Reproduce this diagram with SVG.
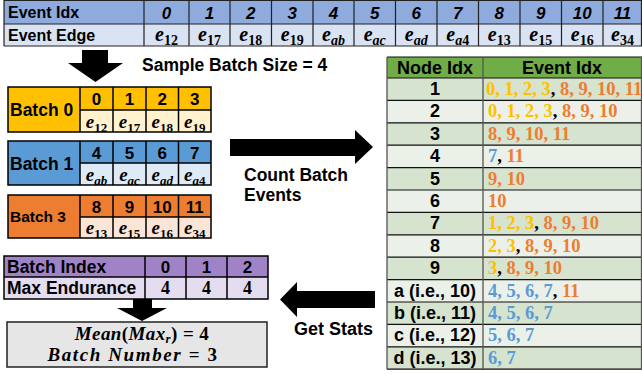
<svg xmlns="http://www.w3.org/2000/svg" width="642" height="374" viewBox="0 0 642 374">
<style>
.s{font-family:"Liberation Sans",Arial,sans-serif;font-weight:bold;fill:#000}
.m{font-family:"Liberation Serif","Times New Roman",serif;font-weight:bold;fill:#000}
.i{font-style:italic}
.c{text-anchor:middle}
.g{stroke:#222;stroke-width:1.2;fill:none}
.Y{fill:#FFC000}.O{fill:#ED7D31}.B{fill:#5B9BD5}.K{fill:#000}
.ev{font-size:18.5px}
.nd{font-size:18px}
</style>
<rect width="642" height="374" fill="#fff"/>

<g id="event-table">
<rect x="4" y="0" width="638" height="24" fill="#8FAADC"/>
<rect x="4" y="24" width="638" height="22" fill="#DAE3F3"/>
<path class="g" d="M4 0.5H642M4 24H642M4 46H642M4 0V46M144 0V46M189 0V46M230 0V46M271.5 0V46M313 0V46M354 0V46M395.5 0V46M437 0V46M478.5 0V46M520 0V46M561.5 0V46M603 0V46M641.5 0V46"/>
<text x="8" y="18" class="s" font-size="16">Event Idx</text>
<text x="8" y="41" class="s" font-size="16">Event Edge</text>
<g class="s i c" font-size="17">
<text x="166.5" y="19">0</text><text x="209.5" y="19">1</text><text x="250.75" y="19">2</text><text x="292.25" y="19">3</text><text x="333.5" y="19">4</text><text x="374.75" y="19">5</text><text x="416.25" y="19">6</text><text x="457.75" y="19">7</text><text x="499.25" y="19">8</text><text x="540.75" y="19">9</text><text x="582.25" y="19">10</text><text x="622.5" y="19">11</text>
</g>
<g class="m c" font-size="20">
<text x="166.5" y="41"><tspan class="i">e</tspan><tspan font-size="14" dy="4">12</tspan></text>
<text x="209.5" y="41"><tspan class="i">e</tspan><tspan font-size="14" dy="4">17</tspan></text>
<text x="250.75" y="41"><tspan class="i">e</tspan><tspan font-size="14" dy="4">18</tspan></text>
<text x="292.25" y="41"><tspan class="i">e</tspan><tspan font-size="14" dy="4">19</tspan></text>
<text x="333.5" y="41"><tspan class="i">e</tspan><tspan class="i" font-size="14" dy="4">ab</tspan></text>
<text x="374.75" y="41"><tspan class="i">e</tspan><tspan class="i" font-size="14" dy="4">ac</tspan></text>
<text x="416.25" y="41"><tspan class="i">e</tspan><tspan class="i" font-size="14" dy="4">ad</tspan></text>
<text x="457.75" y="41"><tspan class="i">e</tspan><tspan class="i" font-size="14" dy="4">a</tspan><tspan font-size="14">4</tspan></text>
<text x="499.25" y="41"><tspan class="i">e</tspan><tspan font-size="14" dy="4">13</tspan></text>
<text x="540.75" y="41"><tspan class="i">e</tspan><tspan font-size="14" dy="4">15</tspan></text>
<text x="582.25" y="41"><tspan class="i">e</tspan><tspan font-size="14" dy="4">16</tspan></text>
<text x="622.5" y="41"><tspan class="i">e</tspan><tspan font-size="14" dy="4">34</tspan></text>
</g>
</g>

<g id="sample-label">
<text x="142" y="71" class="s" font-size="17.5">Sample Batch Size = 4</text>
</g>

<g id="batch0">
<rect x="8" y="87" width="72" height="45" fill="#FFC000"/>
<rect x="80" y="87" width="131" height="23" fill="#FFC000"/>
<rect x="80" y="110" width="131" height="22" fill="#FFF2CC"/>
<path d="M8 87H211V132H8ZM80 87V132M113 87V132M146 87V132M178.5 87V132M80 110H211" fill="none" stroke="#000" stroke-width="1.5"/>
<text x="10" y="116" class="s" font-size="17.5">Batch 0</text>
<g class="s c" font-size="17"><text x="96.5" y="105">0</text><text x="129.5" y="105">1</text><text x="162.25" y="105">2</text><text x="194.75" y="105">3</text></g>
<g class="m c" font-size="19">
<text x="96.5" y="128"><tspan class="i">e</tspan><tspan font-size="13" dy="4">12</tspan></text>
<text x="129.5" y="128"><tspan class="i">e</tspan><tspan font-size="13" dy="4">17</tspan></text>
<text x="162.25" y="128"><tspan class="i">e</tspan><tspan font-size="13" dy="4">18</tspan></text>
<text x="194.75" y="128"><tspan class="i">e</tspan><tspan font-size="13" dy="4">19</tspan></text>
</g>
</g>

<g id="batch1">
<rect x="8" y="141" width="72" height="44" fill="#5B9BD5"/>
<rect x="80" y="141" width="131" height="22" fill="#5B9BD5"/>
<rect x="80" y="163" width="131" height="22" fill="#DEEBF7"/>
<path d="M8 141H211V185H8ZM80 141V185M113 141V185M146 141V185M178.5 141V185M80 163H211" fill="none" stroke="#000" stroke-width="1.5"/>
<text x="10" y="170" class="s" font-size="17.5">Batch 1</text>
<g class="s c" font-size="17"><text x="96.5" y="159">4</text><text x="129.5" y="159">5</text><text x="162.25" y="159">6</text><text x="194.75" y="159">7</text></g>
<g class="m c" font-size="19">
<text x="96.5" y="181"><tspan class="i">e</tspan><tspan class="i" font-size="13" dy="4">ab</tspan></text>
<text x="129.5" y="181"><tspan class="i">e</tspan><tspan class="i" font-size="13" dy="4">ac</tspan></text>
<text x="162.25" y="181"><tspan class="i">e</tspan><tspan class="i" font-size="13" dy="4">ad</tspan></text>
<text x="194.75" y="181"><tspan class="i">e</tspan><tspan class="i" font-size="13" dy="4">a</tspan><tspan font-size="13">4</tspan></text>
</g>
</g>

<g id="batch3">
<rect x="8" y="195" width="72" height="43" fill="#ED7D31"/>
<rect x="80" y="195" width="131" height="22" fill="#ED7D31"/>
<rect x="80" y="217" width="131" height="21" fill="#FBE5D6"/>
<path d="M8 195H211V238H8ZM80 195V238M113 195V238M146 195V238M178.5 195V238M80 217H211" fill="none" stroke="#000" stroke-width="1.5"/>
<text x="10" y="222" class="s" font-size="15.5">Batch 3</text>
<g class="s c" font-size="17"><text x="96.5" y="213">8</text><text x="129.5" y="213">9</text><text x="162.25" y="213">10</text><text x="194.75" y="213">11</text></g>
<g class="m c" font-size="19">
<text x="96.5" y="234"><tspan class="i">e</tspan><tspan font-size="13" dy="4">13</tspan></text>
<text x="129.5" y="234"><tspan class="i">e</tspan><tspan font-size="13" dy="4">15</tspan></text>
<text x="162.25" y="234"><tspan class="i">e</tspan><tspan font-size="13" dy="4">16</tspan></text>
<text x="194.75" y="234"><tspan class="i">e</tspan><tspan font-size="13" dy="4">34</tspan></text>
</g>
</g>

<g id="node-table">
<rect x="387" y="57" width="255" height="21" fill="#70AD47"/>
<rect x="387" y="78" width="255" height="22.4" fill="#D6E3CF"/>
<rect x="387" y="100.4" width="255" height="22.4" fill="#EBF1E8"/>
<rect x="387" y="122.8" width="255" height="22.4" fill="#D6E3CF"/>
<rect x="387" y="145.2" width="255" height="22.4" fill="#EBF1E8"/>
<rect x="387" y="167.6" width="255" height="22.4" fill="#D6E3CF"/>
<rect x="387" y="190" width="255" height="22.4" fill="#EBF1E8"/>
<rect x="387" y="212.4" width="255" height="22.4" fill="#D6E3CF"/>
<rect x="387" y="234.8" width="255" height="22.4" fill="#EBF1E8"/>
<rect x="387" y="257.2" width="255" height="22.4" fill="#D6E3CF"/>
<rect x="387" y="279.6" width="255" height="22.4" fill="#EBF1E8"/>
<rect x="387" y="302" width="255" height="22.4" fill="#D6E3CF"/>
<rect x="387" y="324.4" width="255" height="22.4" fill="#EBF1E8"/>
<rect x="387" y="346.8" width="255" height="22.4" fill="#D6E3CF"/>
<path d="M387 57H642M387 78H642M387 100.4H642M387 122.8H642M387 145.2H642M387 167.6H642M387 190H642M387 212.4H642M387 234.8H642M387 257.2H642M387 279.6H642M387 302H642M387 324.4H642M387 346.8H642M387 369.2H642" stroke="#111" stroke-width="1.2" fill="none"/>
<path d="M387 57V369.2M483 57V369.2M641.5 57V369.2" stroke="#555" stroke-width="1.3" fill="none"/>
<text x="435" y="74" class="s c nd">Node Idx</text>
<text x="562" y="74" class="s c nd">Event Idx</text>
<g class="s c nd">
<text x="435" y="95">1</text><text x="435" y="117.4">2</text><text x="435" y="139.8">3</text><text x="435" y="162.2">4</text><text x="435" y="184.6">5</text><text x="435" y="207">6</text><text x="435" y="229.4">7</text><text x="435" y="251.8">8</text><text x="435" y="274.2">9</text><text x="435" y="296.6">a (i.e., 10)</text><text x="435" y="319">b (i.e., 11)</text><text x="435" y="341.4">c (i.e., 12)</text><text x="435" y="363.8">d (i.e., 13)</text>
</g>
<g class="m ev">
<text x="486" y="95"><tspan class="Y">0, 1, 2, 3</tspan><tspan class="K">, </tspan><tspan class="O">8, 9, 10, 11</tspan></text>
<text x="488" y="117.4"><tspan class="Y">0, 1, 2, 3</tspan><tspan class="K">, </tspan><tspan class="O">8, 9, 10</tspan></text>
<text x="488" y="139.8"><tspan class="O">8, 9, 10, 11</tspan></text>
<text x="488" y="162.2"><tspan class="B">7</tspan><tspan class="K">, </tspan><tspan class="O">11</tspan></text>
<text x="488" y="184.6"><tspan class="O">9, 10</tspan></text>
<text x="488" y="207"><tspan class="O">10</tspan></text>
<text x="488" y="229.4"><tspan class="Y">1, 2, 3</tspan><tspan class="K">, </tspan><tspan class="O">8, 9, 10</tspan></text>
<text x="488" y="251.8"><tspan class="Y">2, 3</tspan><tspan class="K">, </tspan><tspan class="O">8, 9, 10</tspan></text>
<text x="488" y="274.2"><tspan class="Y">3</tspan><tspan class="K">, </tspan><tspan class="O">8, 9, 10</tspan></text>
<text x="488" y="296.6"><tspan class="B">4, 5, 6, 7</tspan><tspan class="K">, </tspan><tspan class="O">11</tspan></text>
<text x="488" y="319"><tspan class="B">4, 5, 6, 7</tspan></text>
<text x="488" y="341.4"><tspan class="B">5, 6, 7</tspan></text>
<text x="488" y="363.8"><tspan class="B">6, 7</tspan></text>
</g>
</g>

<g id="stats-table">
<rect x="4" y="256" width="264" height="21" fill="#A083C6"/>
<rect x="4" y="277" width="264" height="22" fill="#E4DCEF"/>
<path d="M4 256H268V299H4ZM4 277H268M145 256V299M186 256V299M227 256V299" fill="none" stroke="#000" stroke-width="1.5"/>
<text x="7" y="273" class="s" font-size="17.5">Batch Index</text>
<text x="7" y="294" class="s" font-size="17.5">Max Endurance</text>
<g class="s c" font-size="17"><text x="165.5" y="273">0</text><text x="206.5" y="273">1</text><text x="247.5" y="273">2</text></g>
<g class="m c" font-size="18"><text x="165.5" y="294">4</text><text x="206.5" y="294">4</text><text x="247.5" y="294">4</text></g>
</g>

<g id="result-box">
<rect x="7" y="322" width="260" height="45" fill="#E7E6E6" stroke="#222" stroke-width="1.5"/>
<text x="142" y="340" class="m c" font-size="19" letter-spacing="0.4"><tspan class="i">Mean</tspan>(<tspan class="i">Max</tspan><tspan class="i" font-size="13" dy="2.5">r</tspan><tspan dy="-2.5">) = 4</tspan></text>
<text x="133" y="361" class="m c" font-size="19" letter-spacing="1.6"><tspan class="i">Batch Number</tspan> = 3</text>
</g>

<g id="connectors">
<polygon points="82,50 108,50 108,63 123,63 95.5,82 68,63 82,63" fill="#000"/>
<polygon points="230,139 355,139 355,130 373,147 355,164 355,156 230,156" fill="#000"/>
<polygon points="375,291 297,291 297,282 280,299.5 297,317 297,308 375,308" fill="#000"/>
<polygon points="133,299 152,299 152,308 167,308 142,321 117,308 133,308" fill="#000"/>
<text x="244" y="181" class="s" font-size="17.5">Count Batch</text>
<text x="244" y="201" class="s" font-size="17.5">Events</text>
<text x="294" y="335" class="s" font-size="18">Get Stats</text>
</g>
</svg>
